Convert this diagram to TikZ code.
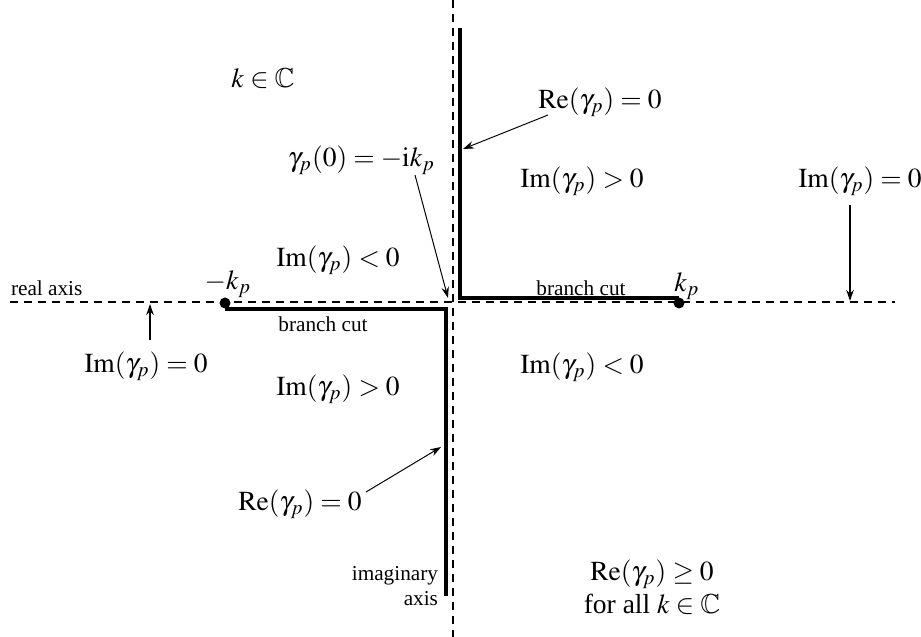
\documentclass[tikz,border=0pt]{standalone}
\usepackage{mathptmx}
\usepackage{amssymb}
\usepackage{fontspec}
\setmainfont{Liberation Serif}
\usetikzlibrary{arrows.meta}
\begin{document}
\begin{tikzpicture}[x=0.4pt,y=-0.4pt,
  axisline/.style={line width=0.7pt, dash pattern=on 3.2pt off 2.4pt},
  vaxisline/.style={line width=1.1pt, dash pattern=on 3.2pt off 2.4pt},
  cut/.style={line width=1.6pt},
  ptr/.style={line width=0.4pt, -{Stealth[length=4.4pt,width=3pt]}},
  vptr/.style={line width=0.8pt, -{Stealth[length=4.4pt,width=3pt]}},
  lbl/.style={font=\fontsize{11}{13}\selectfont, inner sep=1pt},
  small/.style={font=\fontsize{8.5}{10}\selectfont, inner sep=1pt},
  dot/.style={circle, fill=black, inner sep=0pt, minimum size=4.4pt}]
\useasboundingbox (0,0) rectangle (921,637);
% axes
\coordinate (xl) at (10,302);
\coordinate (xr) at (895,302);
\coordinate (yt) at (453,0);
\coordinate (yb) at (453,637);
\draw[axisline] (xl) -- (xr);
\draw[vaxisline] (yt) -- (yb);
% branch points
\node[dot] (km) at (225,303) {};
\node[dot] (kp) at (679,303) {};
% branch cuts
\coordinate (ut) at (460,28);
\coordinate (uc) at (460,298.5);
\coordinate (lc) at (446,309);
\coordinate (lb) at (446,596);
\draw[cut] (ut) -- (uc) -- (uc -| kp);
\draw[cut] (lc -| km) -- (lc) -- (lb);
% labels
\node[small, anchor=south west] (real) at (8,299) {real axis};
\node[lbl] (kml) at (228,284) {$-k_p$};
\node[lbl] (kpl) at (687,286) {$k_p$};
\node[small] (bcu) at (581,288) {branch cut};
\node[small] (bcl) at (323,324) {branch cut};
\node[lbl] (kin) at (263,79) {$k\in\mathbb{C}$};
\node[lbl] (reu) at (600,102) {$\mathrm{Re}(\gamma_p)=0$};
\node[lbl] (imgu) at (582,181) {$\mathrm{Im}(\gamma_p)>0$};
\node[lbl] (imr) at (860,181) {$\mathrm{Im}(\gamma_p)=0$};
\node[lbl, anchor=east] (g0) at (438,160) {$\gamma_p(0)=-\mathrm{i}k_p$};
\node[lbl] (imlu) at (338,260) {$\mathrm{Im}(\gamma_p)<0$};
\node[lbl] (iml) at (146,366) {$\mathrm{Im}(\gamma_p)=0$};
\node[lbl] (imgl) at (338,389) {$\mathrm{Im}(\gamma_p)>0$};
\node[lbl] (imlr) at (582,367) {$\mathrm{Im}(\gamma_p)<0$};
\node[lbl] (rel) at (300,504) {$\mathrm{Re}(\gamma_p)=0$};
\node[lbl] (rege) at (652,574) {$\mathrm{Re}(\gamma_p)\geq 0$};
\node[lbl] (forall) at (652,604) {for all $k\in\mathbb{C}$};
\node[small, align=right, anchor=east] (imax) at (441,586) {imaginary\\axis};
% pointers
\coordinate (a1s) at (548,115);
\coordinate (a1e) at (463,149);
\draw[ptr] (a1s) -- (a1e);
\coordinate (a2s) at (415,175);
\coordinate (a2e) at (448,298);
\draw[ptr] (a2s) -- (a2e);
\coordinate (a3s) at (366,492);
\coordinate (a3e) at (441,447);
\draw[ptr] (a3s) -- (a3e);
\coordinate (a4s) at (850,205);
\coordinate (a4e) at (850,301);
\draw[vptr] (a4s) -- (a4e);
\coordinate (a5s) at (150,340);
\coordinate (a5e) at (150,304);
\draw[vptr] (a5s) -- (a5e);
\end{tikzpicture}
\end{document}
